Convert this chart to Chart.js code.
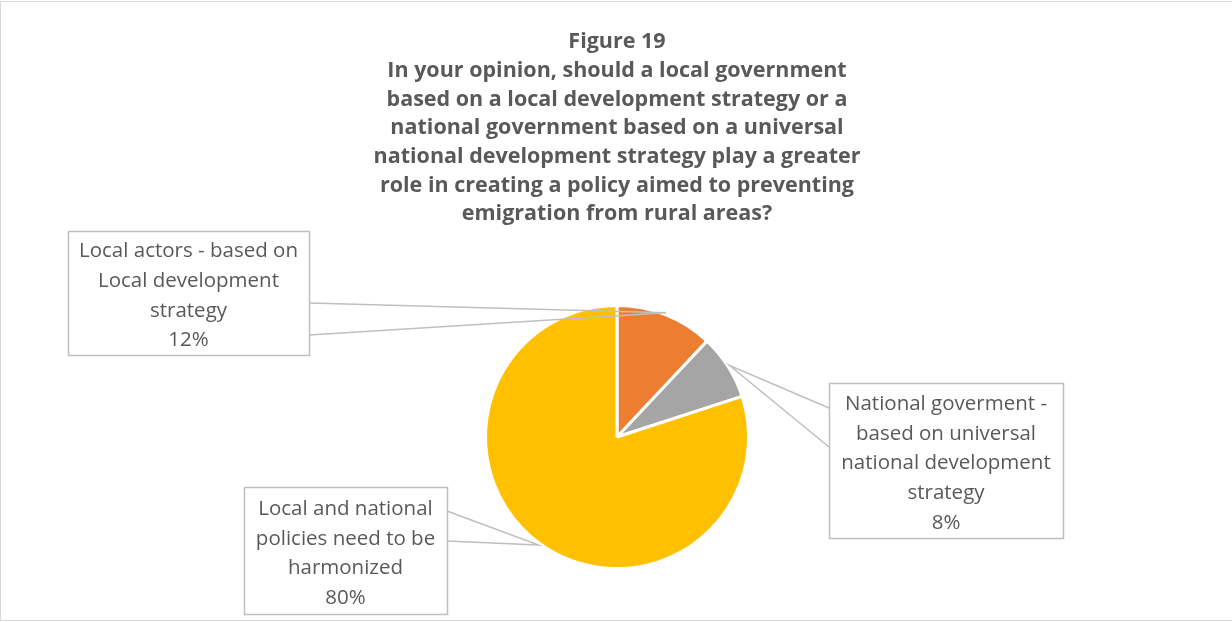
<!DOCTYPE html>
<html>
<head>
<meta charset="utf-8">
<script src="https://cdn.jsdelivr.net/npm/chart.js@4.4.0/dist/chart.umd.min.js"></script>
<style>
  html, body { margin: 0; padding: 0; background: #fff; }
  #wrap { position: relative; width: 1232px; height: 622px; }
</style>
</head>
<body>
<div id="wrap"><canvas id="grafico" width="1232" height="622"></canvas></div>
<script>
const titulo = [
  'Figure 19',
  'In your opinion, should a local government',
  'based on a local development strategy or a',
  'national government based on a universal',
  'national development strategy play a greater',
  'role in creating a policy aimed to preventing',
  'emigration from rural areas?'
];
const categorias = [
  ['Local actors - based on', 'Local development', 'strategy'],
  ['National goverment -', 'based on universal', 'national development', 'strategy'],
  ['Local and national', 'policies need to be', 'harmonized']
];
const valores = [12, 8, 80];
const cores = ['#ED7D31', '#A5A5A5', '#FFC000'];

// posição das caixas de rótulo (e onde as linhas-guia saem da caixa)
const caixas = [
  { x: 68, y: 231, w: 241, h: 124, y1: 303, y2: 335, lado: 'right' },
  { x: 829, y: 383, w: 234, h: 155, y1: 408, y2: 447, lado: 'left' },
  { x: 244, y: 487, w: 203, h: 127, y1: 511, y2: 541, lado: 'right' }
];

const corTexto = '#595959';
const corLinha = '#BFBFBF';

const rotulosPlugin = {
  id: 'rotulos',
  afterDatasetsDraw(chart) {
    const ctx = chart.ctx;
    const arcs = chart.getDatasetMeta(0).data;
    const total = valores.reduce((a, b) => a + b, 0);
    ctx.save();
    arcs.forEach((arc, i) => {
      const c = caixas[i];
      const meio = (arc.startAngle + arc.endAngle) / 2;
      const r = arc.outerRadius + 2;
      const px = arc.x + Math.cos(meio) * r;
      const py = arc.y + Math.sin(meio) * r;
      const bx = c.lado === 'right' ? c.x + c.w : c.x;

      // linhas-guia
      ctx.strokeStyle = corLinha;
      ctx.lineWidth = 1.5;
      ctx.beginPath();
      ctx.moveTo(bx, c.y1);
      ctx.lineTo(px, py);
      ctx.lineTo(bx, c.y2);
      ctx.stroke();

      // caixa
      ctx.fillStyle = '#fff';
      ctx.fillRect(c.x, c.y, c.w, c.h);
      ctx.strokeRect(c.x + 0.5, c.y + 0.5, c.w, c.h);

      // texto
      const linhas = categorias[i].concat([Math.round(valores[i] / total * 100) + '%']);
      const passo = 29.6;
      const cx = c.x + c.w / 2;
      const y0 = c.y + c.h / 2 + 3 - (linhas.length - 1) * passo / 2;
      ctx.fillStyle = corTexto;
      ctx.font = '20.5px "Open Sans"';
      ctx.textAlign = 'center';
      ctx.textBaseline = 'middle';
      linhas.forEach((t, k) => ctx.fillText(t, cx, y0 + k * passo));
    });
    ctx.restore();
  },
  afterDraw(chart) {
    // moldura cinza clara da área do gráfico
    const ctx = chart.ctx;
    ctx.save();
    ctx.strokeStyle = '#D9D9D9';
    ctx.lineWidth = 1;
    ctx.beginPath();
    ctx.moveTo(0, 1.5); ctx.lineTo(1232, 1.5);
    ctx.moveTo(0.5, 1); ctx.lineTo(0.5, 621);
    ctx.moveTo(0, 620.5); ctx.lineTo(1232, 620.5);
    ctx.stroke();
    ctx.restore();
  }
};

new Chart(document.getElementById('grafico'), {
  type: 'pie',
  data: {
    labels: categorias,
    datasets: [{
      data: valores,
      backgroundColor: cores,
      borderColor: '#fff',
      borderWidth: 3
    }]
  },
  options: {
    responsive: false,
    animation: false,
    devicePixelRatio: 1,
    layout: { padding: { left: 2, right: 0, top: 0, bottom: 52 } },
    plugins: {
      legend: { display: false },
      tooltip: { enabled: false },
      title: {
        display: true,
        text: titulo,
        color: corTexto,
        font: { family: 'Open Sans', size: 21.5, weight: 'bold', lineHeight: 28.67 / 21.5 },
        padding: { top: 28, bottom: 75.3 }
      }
    }
  },
  plugins: [rotulosPlugin]
});
</script>
</body>
</html>
